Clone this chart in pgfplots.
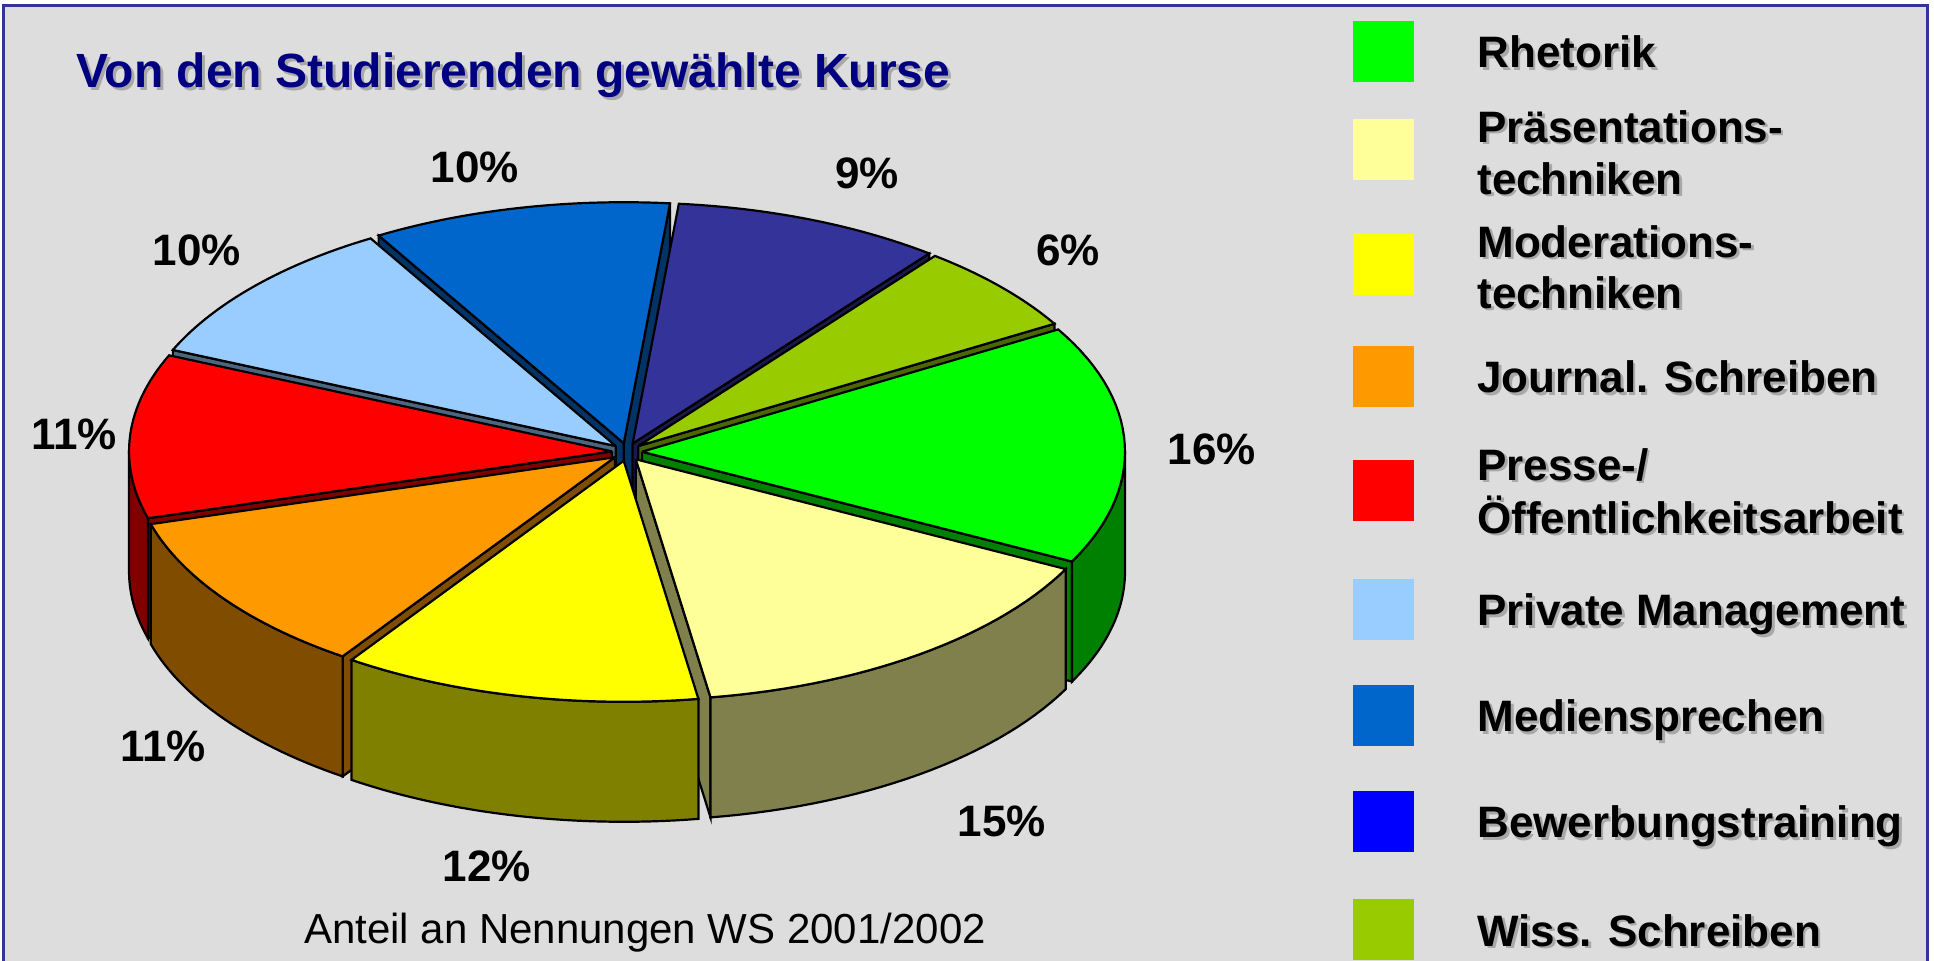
\documentclass[border=0pt]{standalone}
\usepackage{pgfplots}
\pgfplotsset{compat=1.18}
\usepackage{pgfplotstable}
\usepackage{fontspec}
\setmainfont{Liberation Sans}

\definecolor{bg}{HTML}{DDDDDD}
\definecolor{frame}{HTML}{333399}
\definecolor{navy}{HTML}{000080}
\definecolor{shadow}{HTML}{A8A8A8}
% slice colours (pie order)
\definecolor{c0}{HTML}{00FF00}
\definecolor{c1}{HTML}{FFFF99}
\definecolor{c2}{HTML}{FFFF00}
\definecolor{c3}{HTML}{FF9900}
\definecolor{c4}{HTML}{FF0000}
\definecolor{c5}{HTML}{99CCFF}
\definecolor{c6}{HTML}{0066CC}
\definecolor{c7}{HTML}{333399}
\definecolor{c8}{HTML}{99CC00}
\definecolor{l7}{HTML}{0000FF}

% shares in percent: Rhetorik, Praesentationstechniken, Moderationstechniken,
% Journal. Schreiben, Presse-/Oeffentlichkeitsarbeit, Private Management,
% Mediensprechen, Bewerbungstraining, Wiss. Schreiben
\pgfplotstableread{
pct
16
15
12
11
11
10
10
9
6
}\piedata

\def\cx{627}\def\cy{452}\def\rx{483}\def\ry{241}\def\dep{120}
\def\ex{15}\def\ey{9}\def\N{30}\def\lw{1.1pt}

\newcommand\drawslice[2]{%
  \edef\sA{\csname ta#1\endcsname}%
  \edef\sB{\csname tb#1\endcsname}%
  \pgfmathsetmacro\bm{(\sA+\sB)/2}%
  \pgfmathsetmacro\Px{\cx+\ex*cos(\bm)}%
  \pgfmathsetmacro\Py{\cy-\ey*sin(\bm)}%
  \pgfmathsetmacro\PyD{\Py+\dep}%
  \pgfmathsetmacro\Ax{\Px+\rx*cos(\sA)}%
  \pgfmathsetmacro\Ay{\Py-\ry*sin(\sA)}%
  \pgfmathsetmacro\AyD{\Ay+\dep}%
  \pgfmathsetmacro\Bx{\Px+\rx*cos(\sB)}%
  \pgfmathsetmacro\By{\Py-\ry*sin(\sB)}%
  \pgfmathsetmacro\ByD{\By+\dep}%
  \pgfmathtruncatemacro\vis{cos(\sA)>0}%
  \ifnum\vis=1
    \edef\doit{\noexpand\addplot[fill=#2!50!black,draw=black,line width=\lw] coordinates {(\Px,\Py) (\Ax,\Ay) (\Ax,\AyD) (\Px,\PyD) (\Px,\Py)};}\doit
  \fi
  \pgfmathtruncatemacro\vis{cos(\sB)<0}%
  \ifnum\vis=1
    \edef\doit{\noexpand\addplot[fill=#2!50!black,draw=black,line width=\lw] coordinates {(\Px,\Py) (\Bx,\By) (\Bx,\ByD) (\Px,\PyD) (\Px,\Py)};}\doit
  \fi
  \pgfmathsetmacro\wa{max(\sA,-180)}%
  \pgfmathsetmacro\wb{min(\sB,0)}%
  \pgfmathtruncatemacro\vis{\wb>\wa}%
  \ifnum\vis=1
    \gdef\pts{}%
    \foreach \k in {0,...,\N}{%
      \pgfmathsetmacro\tv{\wa+(\wb-\wa)*\k/\N}%
      \pgfmathsetmacro\xx{\Px+\rx*cos(\tv)}%
      \pgfmathsetmacro\yy{\Py-\ry*sin(\tv)}%
      \xdef\pts{\pts(\xx,\yy) }%
    }%
    \foreach \k in {\N,...,0}{%
      \pgfmathsetmacro\tv{\wa+(\wb-\wa)*\k/\N}%
      \pgfmathsetmacro\xx{\Px+\rx*cos(\tv)}%
      \pgfmathsetmacro\yy{\PyD-\ry*sin(\tv)}%
      \xdef\pts{\pts(\xx,\yy) }%
    }%
    \pgfmathsetmacro\xx{\Px+\rx*cos(\wa)}%
    \pgfmathsetmacro\yy{\Py-\ry*sin(\wa)}%
    \xdef\pts{\pts(\xx,\yy)}%
    \edef\doit{\noexpand\addplot[fill=#2!50!black,draw=black,line width=\lw] coordinates {\pts};}\doit
  \fi
  \xdef\pts{(\Px,\Py) }%
  \foreach \k in {0,...,\N}{%
    \pgfmathsetmacro\tv{\sA+(\sB-\sA)*\k/\N}%
    \pgfmathsetmacro\xx{\Px+\rx*cos(\tv)}%
    \pgfmathsetmacro\yy{\Py-\ry*sin(\tv)}%
    \xdef\pts{\pts(\xx,\yy) }%
  }%
  \xdef\pts{\pts(\Px,\Py)}%
  \edef\doit{\noexpand\addplot[fill=#2,draw=black,line width=\lw] coordinates {\pts};}\doit
}

\newcommand\legfont{\fontsize{22}{26}\selectfont\bfseries}
\newcommand\legtext[2]{%
  \node[anchor=base west,inner sep=0pt,font=\legfont,text=shadow,xshift=1.3pt,yshift=-1.3pt] at (axis cs:1477,#1) {#2};
  \node[anchor=base west,inner sep=0pt,font=\legfont] at (axis cs:1477,#1) {#2};}
\newcommand\legbox[2]{%
  \fill[#2] (axis cs:1353,#1-30.5) rectangle (axis cs:1414,#1+30.5);}
\newcommand\pct[3]{%
  \node[anchor=center,inner sep=0pt,font=\fontsize{22}{26}\selectfont\bfseries] at (axis cs:#1,#2) {#3};}

\begin{document}
\def\cum{0}%
\pgfplotsforeachungrouped \i in {0,...,8}{%
  \pgfplotstablegetelem{\i}{pct}\of\piedata
  \let\p\pgfplotsretval
  \pgfmathsetmacro\tbv{30.5-3.6*\cum}%
  \pgfmathsetmacro\tav{\tbv-3.6*\p}%
  \expandafter\xdef\csname ta\i\endcsname{\tav}%
  \expandafter\xdef\csname tb\i\endcsname{\tbv}%
  \pgfmathsetmacro\cum{\cum+\p}%
  \xdef\cum{\cum}%
}%
\begin{tikzpicture}
\begin{axis}[
  width=967pt, height=480pt, scale only axis,
  anchor=south west, at={(0,0)},
  xmin=0, xmax=1934, ymin=0, ymax=960, y dir=reverse,
  hide axis, clip=false]
\fill[white] (axis cs:0,0) rectangle (axis cs:1934,960);
\draw[fill=bg, draw=frame, line width=1.5pt] (axis cs:3,5) rectangle (axis cs:1927,970);
% slices, back to front
\drawslice{6}{c6}
\drawslice{7}{c7}
\drawslice{5}{c5}
\drawslice{8}{c8}
\drawslice{4}{c4}
\drawslice{0}{c0}
\drawslice{3}{c3}
\drawslice{1}{c1}
\drawslice{2}{c2}
% percentage labels
\pct{475}{167}{10\%}
\pct{867}{173}{9\%}
\pct{1068}{250}{6\%}
\pct{1212}{449}{16\%}
\pct{1002}{821}{15\%}
\pct{487}{866}{12\%}
\pct{163}{746}{11\%}
\pct{74}{434}{11\%}
\pct{197}{250}{10\%}
% title and subtitle
\node[anchor=base west,inner sep=0pt,font=\fontsize{24}{28}\selectfont\bfseries,text=shadow,xshift=1.5pt,yshift=-1.5pt] at (axis cs:76,87) {Von den Studierenden gewählte Kurse};
\node[anchor=base west,inner sep=0pt,font=\fontsize{24}{28}\selectfont\bfseries,text=navy] at (axis cs:76,87) {Von den Studierenden gewählte Kurse};
\node[anchor=base,inner sep=0pt,font=\fontsize{21}{25}\selectfont] at (axis cs:645,943) {Anteil an Nennungen WS 2001/2002};
% legend
\legbox{51.2}{c0}
\legbox{149.2}{c1}
\legbox{264}{c2}
\legbox{376.2}{c3}
\legbox{490}{c4}
\legbox{609.2}{c5}
\legbox{715.3}{c6}
\legbox{821.3}{l7}
\legbox{929.7}{c8}
\legtext{67.7}{Rhetorik}
\legtext{142}{Präsentations-}
\legtext{194}{techniken}
\legtext{257}{Moderations-}
\legtext{308}{techniken}
\legtext{392.7}{Journal. Schreiben}
\legtext{480}{Presse-/}
\legtext{533}{Öffentlichkeitsarbeit}
\legtext{625.7}{Private Management}
\legtext{731.8}{Mediensprechen}
\legtext{837.8}{Bewerbungstraining}
\legtext{946.2}{Wiss. Schreiben}
\end{axis}
\pgfresetboundingbox
\path[use as bounding box] (0,0) rectangle (967pt,480pt);
\end{tikzpicture}
\end{document}
